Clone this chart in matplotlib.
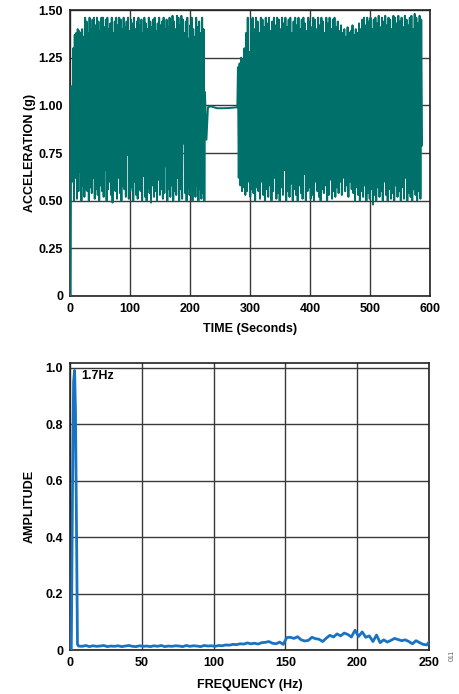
import numpy as np
import matplotlib
matplotlib.use("Agg")
import matplotlib.pyplot as plt

plt.rcParams['font.family'] = ['Liberation Sans', 'DejaVu Sans']
plt.rcParams['font.weight'] = 'bold'

# ---- top chart: acceleration vs time ----
# start-up spike
t_start = [1.0, 2.0]
a_start = [0.0, 1.10]

# first active segment (alternating peaks / troughs), ~3 s .. 224 s
peaks_1 = [1.10, 1.30, 1.37, 1.38, 1.40, 1.39, 1.38, 1.40, 1.36, 1.46,
           1.44, 1.38, 1.46, 1.40, 1.45, 1.46, 1.42, 1.46, 1.44, 1.39,
           1.46, 1.46, 1.41, 1.45, 1.46, 1.40, 1.43, 1.46, 1.38, 1.44,
           1.46, 1.42, 1.46, 1.45, 1.40, 1.46, 1.41, 1.44, 1.46, 1.39,
           1.45, 1.43, 1.46, 1.40, 1.44, 1.46, 1.42, 1.45, 1.38, 1.46,
           1.43, 1.40, 1.46, 1.44, 1.41, 1.45, 1.46, 1.39, 1.43, 1.46,
           1.42, 1.44, 1.46, 1.40, 1.45, 1.41, 1.46, 1.43, 1.47, 1.44,
           1.40, 1.47, 1.46, 1.42, 1.47, 1.45, 1.38, 1.44, 1.46, 1.35,
           1.42, 1.46, 1.40, 1.36, 1.46, 1.41, 1.44, 1.38, 1.46, 1.40]
troughs_1 = [0.60, 0.50, 0.62, 0.51, 0.55, 0.65, 0.50, 0.58, 0.52, 0.56,
             0.55, 0.50, 0.57, 0.54, 0.62, 0.51, 0.56, 0.53, 0.50, 0.58,
             0.55, 0.52, 0.66, 0.50, 0.56, 0.60, 0.53, 0.49, 0.57, 0.55,
             0.51, 0.62, 0.54, 0.50, 0.58, 0.56, 0.52, 0.74, 0.51, 0.55,
             0.57, 0.50, 0.60, 0.53, 0.51, 0.56, 0.55, 0.50, 0.63, 0.52,
             0.50, 0.57, 0.54, 0.49, 0.58, 0.52, 0.55, 0.50, 0.61, 0.53,
             0.56, 0.51, 0.54, 0.68, 0.50, 0.56, 0.52, 0.58, 0.50, 0.55,
             0.53, 0.62, 0.50, 0.56, 0.51, 0.80, 0.54, 0.50, 0.57, 0.53,
             0.60, 0.50, 0.55, 0.52, 0.58, 0.50, 0.56, 0.51, 0.54, 0.50]

# resting period
t_rest = [225.0, 227.5, 230.0, 235.0, 245.0, 255.0, 265.0, 272.0, 279.0]
a_rest = [1.07, 0.82, 0.99, 0.995, 0.985, 0.985, 0.986, 0.988, 0.99]

# second active segment, ~280 s .. 587 s
peaks_2 = [1.20, 1.22, 1.25, 1.24, 1.30, 1.38, 1.46, 1.28, 1.45, 1.46,
           1.40, 1.46, 1.44, 1.38, 1.46, 1.45, 1.41, 1.46, 1.43, 1.46,
           1.39, 1.44, 1.46, 1.42, 1.46, 1.45, 1.40, 1.46, 1.43, 1.46,
           1.41, 1.45, 1.46, 1.38, 1.44, 1.46, 1.42, 1.46, 1.40, 1.45,
           1.46, 1.43, 1.39, 1.46, 1.44, 1.41, 1.46, 1.45, 1.40, 1.46,
           1.42, 1.46, 1.44, 1.38, 1.46, 1.43, 1.46, 1.40, 1.45, 1.46,
           1.41, 1.44, 1.39, 1.42, 1.38, 1.40, 1.36, 1.41, 1.38, 1.39,
           1.42, 1.37, 1.40, 1.38, 1.43, 1.40, 1.45, 1.46, 1.42, 1.46,
           1.44, 1.46, 1.40, 1.45, 1.46, 1.43, 1.47, 1.41, 1.46, 1.44,
           1.47, 1.42, 1.46, 1.45, 1.40, 1.47, 1.46, 1.43, 1.47, 1.44,
           1.46, 1.41, 1.47, 1.45, 1.42, 1.46, 1.47, 1.40, 1.48, 1.46,
           1.43, 1.47, 1.45]
troughs_2 = [0.62, 0.58, 0.55, 0.57, 0.53, 0.55, 0.60, 0.52, 0.56, 0.54,
             0.50, 0.57, 0.55, 0.51, 0.60, 0.53, 0.50, 0.56, 0.52, 0.58,
             0.50, 0.55, 0.62, 0.51, 0.54, 0.50, 0.57, 0.53, 0.66, 0.50,
             0.55, 0.52, 0.59, 0.50, 0.56, 0.53, 0.50, 0.58, 0.54, 0.51,
             0.64, 0.50, 0.55, 0.57, 0.51, 0.53, 0.50, 0.60, 0.55, 0.52,
             0.50, 0.56, 0.54, 0.58, 0.50, 0.53, 0.61, 0.51, 0.55, 0.52,
             0.57, 0.54, 0.60, 0.53, 0.62, 0.55, 0.58, 0.52, 0.60, 0.56,
             0.54, 0.50, 0.57, 0.53, 0.50, 0.55, 0.52, 0.58, 0.50, 0.54,
             0.51, 0.56, 0.48, 0.53, 0.50, 0.57, 0.52, 0.55, 0.50, 0.60,
             0.53, 0.50, 0.56, 0.51, 0.54, 0.50, 0.58, 0.52, 0.55, 0.50,
             0.57, 0.51, 0.62, 0.50, 0.54, 0.52, 0.50, 0.56, 0.53, 0.50,
             0.55, 0.51, 0.79]

# ---- bottom chart: FFT amplitude ----
f_peak = [0.0, 0.9, 1.8, 2.5, 3.2, 3.8, 4.5, 5.2]
amp_peak = [0.0, 0.0, 0.60, 0.95, 0.99, 0.85, 0.45, 0.02]

amp_tail = [0.014, 0.013, 0.016, 0.012, 0.015, 0.013, 0.014, 0.016, 0.012, 0.014,
            0.013, 0.015, 0.012, 0.014, 0.016, 0.013, 0.012, 0.015, 0.013, 0.014,
            0.012, 0.015, 0.013, 0.016, 0.012, 0.014, 0.013, 0.015, 0.014, 0.012,
            0.016, 0.013, 0.015, 0.014, 0.012, 0.016, 0.014, 0.015,
            0.013, 0.016, 0.015, 0.018, 0.017, 0.020, 0.019, 0.022, 0.021, 0.025,
            0.022, 0.024, 0.021, 0.026, 0.027, 0.030, 0.024, 0.022, 0.028, 0.020,
            0.044, 0.045, 0.041, 0.047, 0.036, 0.032, 0.034, 0.045, 0.040, 0.038,
            0.030, 0.042, 0.052, 0.046, 0.057, 0.050, 0.060, 0.055, 0.046, 0.070,
            0.048, 0.064, 0.045, 0.050, 0.030, 0.053, 0.026, 0.036, 0.028, 0.034,
            0.041, 0.037, 0.033, 0.036, 0.030, 0.022, 0.033, 0.026, 0.020, 0.018,
            0.028]
f_tail = list(np.arange(6.0, 250.0, 2.5)) + [250.0]

top_ticks_y = [0, 0.25, 0.50, 0.75, 1.00, 1.25, 1.50]
top_ticklabels_y = ['0', '0.25', '0.50', '0.75', '1.00', '1.25', '1.50']
top_ticks_x = [0, 100, 200, 300, 400, 500, 600]
bot_ticks_y = [0, 0.2, 0.4, 0.6, 0.8, 1.0]
bot_ticklabels_y = ['0', '0.2', '0.4', '0.6', '0.8', '1.0']
bot_ticks_x = [0, 50, 100, 150, 200, 250]


def zigzag(t0, t1, peaks, troughs):
    vals = []
    for p, q in zip(peaks, troughs):
        vals += [p, q]
    ts = np.linspace(t0, t1, len(vals))
    return list(ts), vals


t1, a1 = zigzag(3.0, 224.0, peaks_1, troughs_1)
t2, a2 = zigzag(280.0, 587.0, peaks_2, troughs_2)
t_all = t_start + t1 + t_rest + t2
a_all = a_start + a1 + a_rest + a2

fig = plt.figure(figsize=(4.59, 6.94), dpi=100)

ax1 = fig.add_axes([0.1525, 0.5735, 0.784, 0.412])
ax2 = fig.add_axes([0.1525, 0.0634, 0.782, 0.413])

grid_kw = dict(color='#3a3a3a', linewidth=1.0)

ax1.plot(t_all, a_all, color='#00716a', linewidth=1.4, zorder=3)
ax1.set_xlim(0, 600)
ax1.set_ylim(0, 1.5)
ax1.set_xticks(top_ticks_x)
ax1.set_yticks(top_ticks_y)
ax1.set_yticklabels(top_ticklabels_y)
ax1.grid(True, **grid_kw)
ax1.set_xlabel('TIME (Seconds)', fontsize=9, fontweight='bold')
ax1.set_ylabel('ACCELERATION (g)', fontsize=9, fontweight='bold')
ax1.xaxis.set_label_coords(0.5, -0.095)
ax1.yaxis.set_label_coords(-0.095, 0.5)

ax2.plot(f_peak + f_tail, amp_peak + amp_tail, color='#1874c2', linewidth=2.0, zorder=3)
ax2.set_xlim(0, 250)
ax2.set_ylim(0, 1.015)
ax2.set_xticks(bot_ticks_x)
ax2.set_yticks(bot_ticks_y)
ax2.set_yticklabels(bot_ticklabels_y)
ax2.grid(True, **grid_kw)
ax2.set_xlabel('FREQUENCY (Hz)', fontsize=9, fontweight='bold')
ax2.set_ylabel('AMPLITUDE', fontsize=9, fontweight='bold')
ax2.xaxis.set_label_coords(0.5, -0.1)
ax2.yaxis.set_label_coords(-0.095, 0.5)
ax2.text(7.5, 0.97, '1.7Hz', fontsize=9, fontweight='bold', va='center', ha='left')

for ax in (ax1, ax2):
    ax.tick_params(length=0, labelsize=9, pad=5)
    for lab in ax.get_xticklabels() + ax.get_yticklabels():
        lab.set_fontweight('bold')
    for s in ax.spines.values():
        s.set_linewidth(1.2)
        s.set_color('#222222')
    ax.set_axisbelow(True)

fig.text(0.985, 0.055, '011', rotation=90, fontsize=5, color='#666666',
         fontweight='normal', ha='center', va='center')

fig.savefig('out.png', dpi=100, facecolor='white')
